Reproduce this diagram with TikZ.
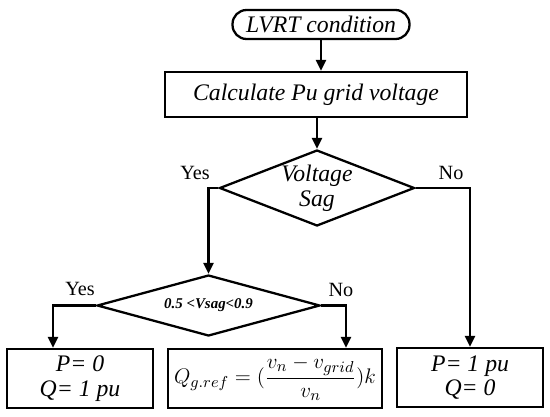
\documentclass[tikz,border=0pt]{standalone}
\usepackage{amsmath}
\usepackage{fontspec}
\setmainfont{Liberation Serif}
\usepackage{tikz}
\usetikzlibrary{arrows.meta,positioning,shapes.geometric}
\tikzset{arr/.style={-{Triangle[length=2.2mm,width=2mm]},line width=1.3pt},
  box/.style={draw,line width=1.3pt,align=center,inner sep=2pt,font=\fontsize{13.5}{14}\selectfont\itshape},
  choice/.style={draw,diamond,line width=1.3pt,align=center,inner sep=0pt,aspect=2.6},
  lbl/.style={font=\fontsize{11.5}{13}\selectfont}}

\begin{document}
\begin{tikzpicture}[x=0.02cm,y=-0.02cm]
\useasboundingbox (0,0) rectangle (550,416);
\node[box,rounded corners=2.8mm,minimum width=3.54cm,minimum height=0.58cm] (start) at (321,24.5) {LVRT condition};
\node[box,minimum width=6.04cm,minimum height=0.9cm] (calc) at (316,94.5) {Calculate Pu grid voltage};
\node[choice,minimum width=3.9cm,minimum height=1.52cm,font=\fontsize{13.5}{14}\selectfont\itshape] (sag) at (317,188) {Voltage\\Sag};
\node[choice,minimum width=4.46cm,minimum height=1.22cm,font=\fontsize{8.5}{10}\selectfont\bfseries\itshape] (range) at (208.5,305.5) {0.5 <Vsag<0.9};
\node[box,minimum width=2.92cm,minimum height=1.18cm] (zero) at (80,378.5) {P= 0\\Q= 1 pu};
\node[box,minimum width=4.28cm,minimum height=1.18cm,font=\fontsize{12.5}{14}\selectfont] (qref) at (275,378.5) {$Q_{g.ref}=(\dfrac{v_n-v_{grid}}{v_n})k$};
\node[box,minimum width=2.92cm,minimum height=1.18cm] (full) at (470,377.5) {P= 1 pu\\Q= 0};
\draw[arr] (start.south |- start.south) -- (start.south |- calc.north);
\draw[arr] (sag.north |- calc.south) -- (sag.north);
\draw[arr] (sag.west) -| (range.north);
\draw[arr] (sag.east) -| (full.north);
\draw[arr] (range.west) -| ([xshift=-0.54cm]zero.north);
\draw[arr] (range.east) -| ([xshift=1.42cm]qref.north);
\node[lbl] (yes1) at (195,173) {Yes};
\node[lbl] (no1) at (451,173) {No};
\node[lbl] (yes2) at (80,289) {Yes};
\node[lbl] (no2) at (341,290) {No};
\end{tikzpicture}
\end{document}
